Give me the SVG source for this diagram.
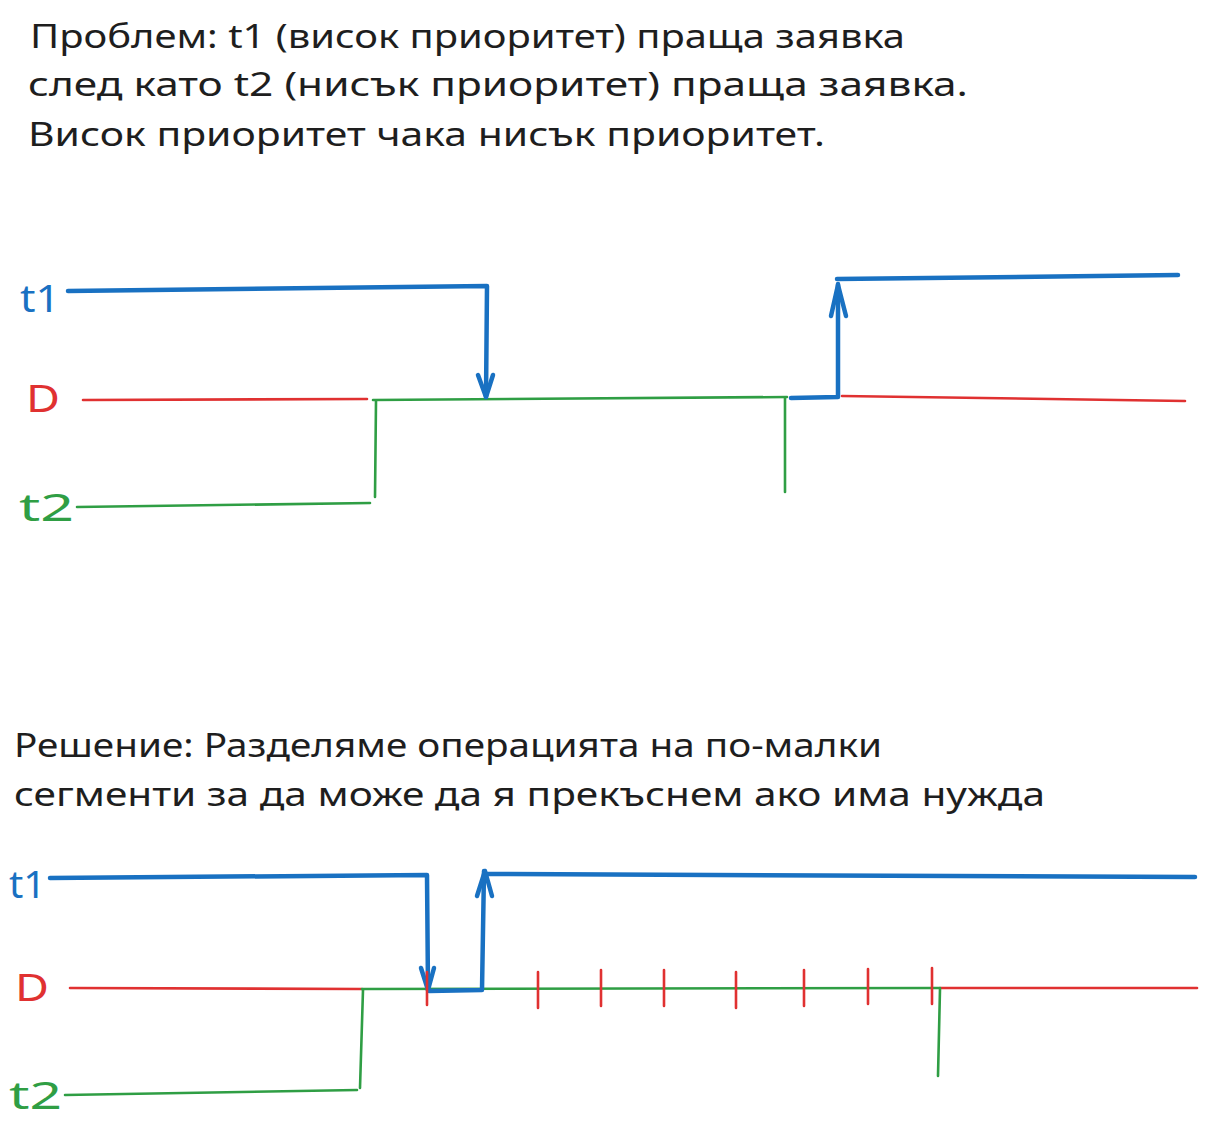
<svg xmlns="http://www.w3.org/2000/svg" width="1207" height="1134" viewBox="0 0 1207 1134">
<style>
.txt{font-family:"Noto Sans","Liberation Sans",sans-serif;font-size:32px;fill:#1e1e1e}
.lbl{font-family:"Noto Sans","Liberation Sans",sans-serif;font-size:38px}
.b{stroke:#1971c2;stroke-width:4.5;fill:none;stroke-linecap:round;stroke-linejoin:round}
.r{stroke:#e03131;stroke-width:2.6;fill:none;stroke-linecap:round}
.g{stroke:#2f9e44;stroke-width:2.6;fill:none;stroke-linecap:round}
</style>
<rect width="1207" height="1134" fill="#ffffff"/>
<g id="title-problem">
<text class="txt" x="30" y="48" textLength="875" lengthAdjust="spacingAndGlyphs">Проблем: t1 (висок приоритет) праща заявка</text>
<text class="txt" x="28" y="96" textLength="940" lengthAdjust="spacingAndGlyphs">след като t2 (нисък приоритет) праща заявка.</text>
<text class="txt" x="28" y="146" textLength="797" lengthAdjust="spacingAndGlyphs">Висок приоритет чака нисък приоритет.</text>
</g>
<g id="title-solution">
<text class="txt" x="14" y="757" textLength="868" lengthAdjust="spacingAndGlyphs">Решение: Разделяме операцията на по-малки</text>
<text class="txt" x="14" y="806" textLength="1031" lengthAdjust="spacingAndGlyphs">сегменти за да може да я прекъснем ако има нужда</text>
</g>
<g id="labels-top">
<text class="lbl" x="20" y="312" fill="#1971c2" textLength="40" lengthAdjust="spacingAndGlyphs">t1</text>
<text class="lbl" x="26" y="412" fill="#e03131" textLength="34" lengthAdjust="spacingAndGlyphs">D</text>
<text class="lbl" x="19" y="521" fill="#2f9e44" textLength="55" lengthAdjust="spacingAndGlyphs">t2</text>
</g>
<g id="labels-bottom">
<text class="lbl" x="9" y="898" fill="#1971c2" textLength="37" lengthAdjust="spacingAndGlyphs">t1</text>
<text class="lbl" x="15" y="1001" fill="#e03131" textLength="34" lengthAdjust="spacingAndGlyphs">D</text>
<text class="lbl" x="9" y="1109" fill="#2f9e44" textLength="53" lengthAdjust="spacingAndGlyphs">t2</text>
</g>
<g id="connectors-top">
<path class="r" d="M83 400 L367 399"/>
<path class="r" d="M842 396 L1185 401"/>
<path class="g" d="M77 507 L370 503"/>
<path class="g" d="M375 497 L376 401"/>
<path class="g" d="M373 400 L787 397"/>
<path class="g" d="M785 398 L785 492"/>
<path class="b" d="M68 291 L487 286 L486 397"/>
<path class="b" d="M478 375 L486 397 L493 375"/>
<path class="b" d="M791 398 L838 397 L838 284"/>
<path class="b" d="M831 316 L838 285 L846 316"/>
<path class="b" d="M837 279 L1178 275"/>
</g>
<g id="connectors-bottom">
<path class="r" d="M70 988 L362 989"/>
<path class="r" d="M940 988 L1197 988"/>
<path class="g" d="M65 1095 L357 1090"/>
<path class="g" d="M360 1088 L363 990"/>
<path class="g" d="M362 989 L940 988"/>
<path class="g" d="M940 989 L938 1076"/>
<path class="b" d="M50 878 L427 875 L428 990"/>
<path class="b" d="M421 968 L428 990 L434 968"/>
<path class="b" d="M429 991 L482 990 L484 871"/>
<path class="b" d="M477 896 L485 871 L492 896"/>
<path class="b" d="M487 874 L1195 877"/>
<path class="r" d="M427 972 L427 1005 M538 972 L538 1008 M601 970 L601 1006 M664 970 L664 1006 M736 972 L736 1008 M804 970 L804 1006 M868 969 L868 1004 M932 968 L932 1004"/>
</g>
</svg>
